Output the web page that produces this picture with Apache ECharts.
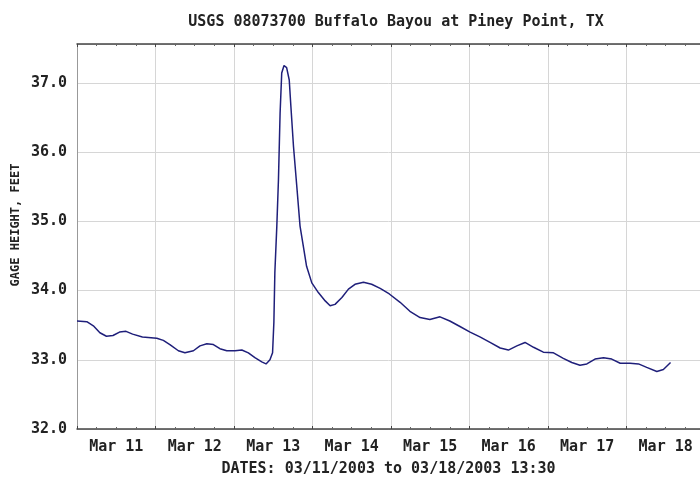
<!DOCTYPE html>
<html>
<head>
<meta charset="utf-8">
<script src="https://cdn.jsdelivr.net/npm/echarts@6/dist/echarts.min.js"></script>
<style>html,body{margin:0;padding:0;background:#fff}#chart{width:700px;height:482px}</style>
</head>
<body>
<div id="chart"></div>
<script>
// Hours since 03/11/2003 00:00
var hours = [0, 3, 5, 7, 9, 11, 13, 15, 17, 20, 24.4, 26.4, 28.4, 31, 33, 35.6, 37.6, 39.7, 41.7, 43.7, 45.8, 48.3, 50.4, 52.4, 54.4, 56.5, 57.8, 59, 59.8, 60.2, 60.5, 61.1, 61.6, 62.1, 62.6, 63.3, 64.1, 64.9, 65.4, 66.2, 67.2, 68.2, 69.2, 70.2, 71.8, 73.8, 75.9, 77.4, 78.9, 81, 83, 85, 87.6, 90.1, 92.7, 95.5, 98.8, 101.8, 104.9, 107.9, 111, 114, 117.1, 120.2, 123.2, 126.3, 129.4, 131.9, 134.5, 137, 139.6, 142.6, 145.7, 148.7, 151.3, 153.8, 155.9, 158.4, 161, 163.5, 166.1, 169.1, 171.7, 174.2, 177.3, 179.3, 181.5];
// Gage height, feet
var heights = [33.56, 33.55, 33.49, 33.39, 33.34, 33.35, 33.40, 33.41, 33.37, 33.33, 33.31, 33.28, 33.22, 33.13, 33.10, 33.13, 33.20, 33.23, 33.22, 33.16, 33.13, 33.13, 33.14, 33.10, 33.03, 32.97, 32.94, 33.00, 33.10, 33.54, 34.26, 34.93, 35.60, 36.56, 37.14, 37.25, 37.22, 37.04, 36.66, 36.08, 35.51, 34.93, 34.64, 34.35, 34.11, 33.97, 33.85, 33.78, 33.80, 33.90, 34.02, 34.09, 34.12, 34.09, 34.03, 33.95, 33.83, 33.70, 33.61, 33.58, 33.62, 33.56, 33.48, 33.40, 33.33, 33.25, 33.17, 33.14, 33.20, 33.25, 33.18, 33.11, 33.10, 33.02, 32.96, 32.92, 32.94, 33.01, 33.03, 33.01, 32.95, 32.95, 32.94, 32.89, 32.83, 32.86, 32.96];
var dayLabels = ['Mar 11', 'Mar 12', 'Mar 13', 'Mar 14', 'Mar 15', 'Mar 16', 'Mar 17', 'Mar 18'];
var dayLabelHours = [12, 36, 60, 84, 108, 132, 156, 180];
var titleText = 'USGS 08073700 Buffalo Bayou at Piney Point, TX';
var xTitle = 'DATES: 03/11/2003 to 03/18/2003 13:30';
var yTitle = 'GAGE HEIGHT, FEET';

var font = 'DejaVu Sans Mono';
var data = hours.map(function (h, i) { return [h, heights[i]]; });

var chart = echarts.init(document.getElementById('chart'));
chart.setOption({
  animation: false,
  backgroundColor: '#fff',
  title: {
    text: titleText,
    left: 391,
    top: 10,
    textAlign: 'center',
    textStyle: { fontFamily: font, fontSize: 15, fontWeight: 'bold', color: '#222' }
  },
  grid: { left: 77, top: 44, right: 0, bottom: 52 },
  xAxis: [{
    type: 'value',
    min: 0,
    max: 190.5,
    interval: 24,
    position: 'bottom',
    name: xTitle,
    nameLocation: 'middle',
    nameGap: 33,
    nameTextStyle: { fontFamily: font, fontSize: 15, fontWeight: 'bold', color: '#222' },
    axisLine: { show: true, lineStyle: { color: '#444', width: 1.5 } },
    axisTick: { show: true, inside: true, length: 3, lineStyle: { color: '#444' } },
    minorTick: { show: true, splitNumber: 4, length: 2, lineStyle: { color: '#666' } },
    splitLine: { show: true, lineStyle: { color: '#d6d6d6', width: 1 } },
    axisLabel: {
      customValues: dayLabelHours,
      margin: 11,
      fontFamily: font, fontSize: 15, fontWeight: 'bold', color: '#222',
      formatter: function (v) { var i = dayLabelHours.indexOf(v); return i >= 0 ? dayLabels[i] : ''; }
    }
  }, {
    type: 'value',
    min: 0,
    max: 190.5,
    interval: 24,
    position: 'top',
    axisLine: { show: true, lineStyle: { color: '#444', width: 1.5 } },
    axisTick: { show: true, inside: true, length: 3, lineStyle: { color: '#444' } },
    minorTick: { show: true, splitNumber: 4, length: 2, lineStyle: { color: '#666' } },
    splitLine: { show: false },
    axisLabel: { show: false }
  }],
  yAxis: {
    type: 'value',
    min: 32,
    max: 37.56,
    interval: 1,
    axisLine: { show: true, lineStyle: { color: '#999', width: 1 } },
    axisTick: { show: false },
    splitLine: { show: true, lineStyle: { color: '#d6d6d6', width: 1 } },
    axisLabel: {
      showMaxLabel: false,
      margin: 10,
      fontFamily: font, fontSize: 15, fontWeight: 'bold', color: '#222',
      formatter: function (v) { return v.toFixed(1); }
    }
  },
  graphic: [{
    type: 'text',
    x: 16,
    y: 225,
    rotation: Math.PI / 2,
    style: {
      text: yTitle,
      fontFamily: font, fontSize: 12, fontWeight: 'bold', fill: '#222',
      align: 'center', verticalAlign: 'middle'
    }
  }],
  series: [{
    type: 'line',
    data: data,
    showSymbol: false,
    symbol: 'none',
    lineStyle: { color: '#1f1f7a', width: 1.5 },
    z: 5
  }]
});
</script>
</body>
</html>
